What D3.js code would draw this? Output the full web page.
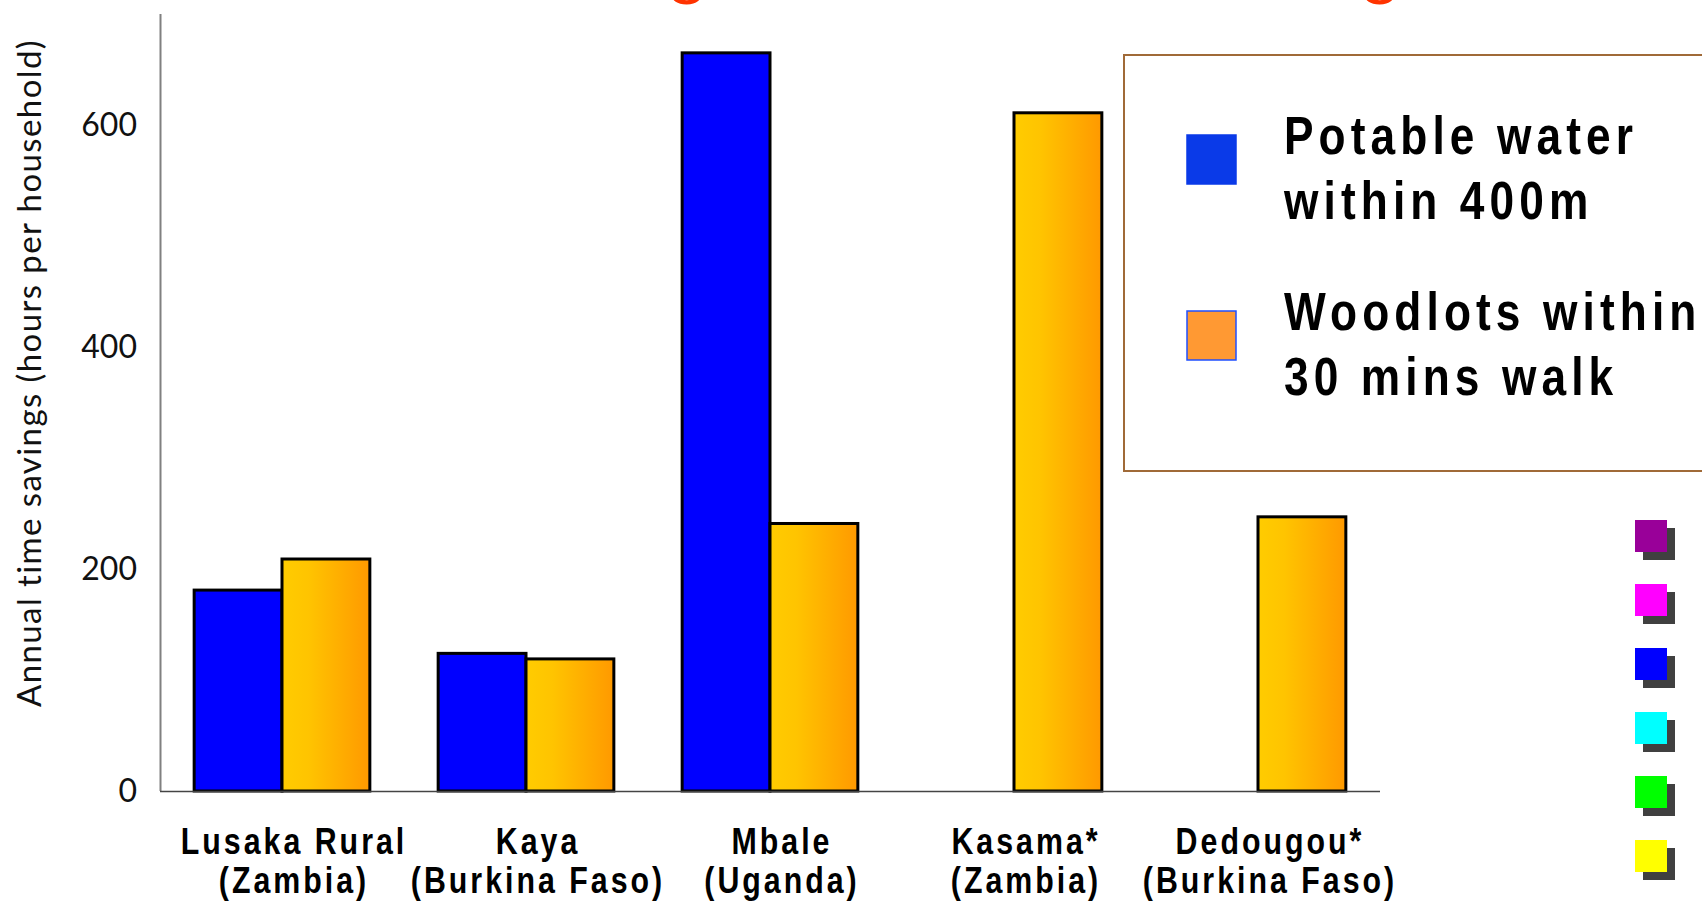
<!DOCTYPE html>
<html>
<head>
<meta charset="utf-8">
<script src="https://cdn.jsdelivr.net/npm/d3@7"></script>
<style>
  html, body { margin: 0; padding: 0; background: #ffffff; overflow: hidden; }
  svg { display: block; }
</style>
</head>
<body>
<svg id="chart" width="1702" height="902"></svg>
<script>
// ---- data ----
const categoriesLine1 = ["Lusaka Rural", "Kaya", "Mbale", "Kasama*", "Dedougou*"];
const categoriesLine2 = ["(Zambia)", "(Burkina Faso)", "(Uganda)", "(Zambia)", "(Burkina Faso)"];
const waterValues = [181, 124, 665, null, null];
const woodlotValues = [209, 119, 241, 611, 247];
const seriesNames = ["Potable water\nwithin 400m", "Woodlots within\n30 mins walk"];
const yTicks = [0, 200, 400, 600];
const yLabel = "Annual time savings (hours per household)";
const titleText = "Time Savings from Better Siting";
const decoColors = ["#990099", "#ff00ff", "#0000ff", "#00ffff", "#00ff00", "#ffff00"];

// ---- layout ----
const svg = d3.select("#chart");
const mLeft = 160, mRight = 1380, mTop = 14, mBottom = 791;
const condense = 0.82;
const boldFont = "'Liberation Sans', Arial, sans-serif";

const x0 = d3.scaleBand().domain(categoriesLine1).range([mLeft, mRight])
  .paddingInner(0.28).paddingOuter(0.14);
const x1 = d3.scaleBand().domain(["water", "wood"]).range([0, x0.bandwidth()]).padding(0);
const y = d3.scaleLinear().domain([0, 700]).range([mBottom, mTop]);

const defs = svg.append("defs");
const grad = defs.append("linearGradient").attr("id", "orangeGrad")
  .attr("x1", "0%").attr("x2", "100%").attr("y1", "0%").attr("y2", "0%");
grad.append("stop").attr("offset", "0%").attr("stop-color", "#ffcc00");
grad.append("stop").attr("offset", "30%").attr("stop-color", "#ffc400");
grad.append("stop").attr("offset", "100%").attr("stop-color", "#ff9900");

// ---- title (mostly above the visible area) ----
const title = svg.append("text")
  .attr("x", 340).attr("y", -7)
  .attr("font-family", "Lato, 'Open Sans', sans-serif")
  .attr("font-size", 66)
  .attr("fill", "#ff3300")
  .text(titleText);
{
  const node = title.node();
  const i1 = titleText.indexOf("g");
  const i2 = titleText.lastIndexOf("g");
  const d = node.getStartPositionOfChar(i2).x - node.getStartPositionOfChar(i1).x;
  const ls = (692 - d) / (i2 - i1);
  title.attr("letter-spacing", ls);
  const p1 = node.getStartPositionOfChar(i1).x;
  title.attr("x", 340 + (670 - p1));
}

// ---- y axis ----
svg.append("line")
  .attr("x1", mLeft + 0.5).attr("x2", mLeft + 0.5)
  .attr("y1", y(700)).attr("y2", y(0))
  .attr("stroke", "#808080").attr("stroke-width", 2);

const yAxis = d3.axisLeft(y).tickValues(yTicks).tickSize(0).tickPadding(0);
const yg = svg.append("g").attr("transform", `translate(${mLeft - 23},0)`).call(yAxis);
yg.select(".domain").remove();
yg.selectAll("text")
  .attr("font-family", "Lato, 'Open Sans', sans-serif")
  .attr("font-size", 32)
  .attr("fill", "#111");

svg.append("text")
  .attr("transform", `translate(41,373) rotate(-90)`)
  .attr("text-anchor", "middle")
  .attr("font-family", "Lato, 'Open Sans', sans-serif")
  .attr("font-size", 33)
  .attr("letter-spacing", 1.4)
  .attr("fill", "#111")
  .text(yLabel);

// ---- bars ----
const groups = svg.append("g").selectAll("g")
  .data(categoriesLine1.map((c, i) => ({ c, i })))
  .join("g")
  .attr("transform", d => `translate(${x0(d.c)},0)`);

groups.filter(d => waterValues[d.i] != null).append("rect")
  .attr("x", x1("water"))
  .attr("width", x1.bandwidth())
  .attr("y", d => y(waterValues[d.i]))
  .attr("height", d => y(0) - y(waterValues[d.i]))
  .attr("fill", "#0000ff")
  .attr("stroke", "#000").attr("stroke-width", 3);

groups.filter(d => woodlotValues[d.i] != null).append("rect")
  .attr("x", x1("wood"))
  .attr("width", x1.bandwidth())
  .attr("y", d => y(woodlotValues[d.i]))
  .attr("height", d => y(0) - y(woodlotValues[d.i]))
  .attr("fill", "url(#orangeGrad)")
  .attr("stroke", "#000").attr("stroke-width", 3);

// baseline
svg.append("line")
  .attr("x1", mLeft).attr("x2", mRight)
  .attr("y1", y(0) + 0.5).attr("y2", y(0) + 0.5)
  .attr("stroke", "#444").attr("stroke-width", 1.5);

// ---- condensed text helper ----
function condensedText(parent, x, yb, str, size, spacing, anchor) {
  const g = parent.append("g").attr("transform", `translate(${x},${yb}) scale(${condense},1)`);
  g.append("text")
    .attr("x", 0).attr("y", 0)
    .attr("text-anchor", anchor)
    .attr("font-family", boldFont)
    .attr("font-weight", "bold")
    .attr("font-size", size)
    .attr("letter-spacing", spacing / condense)
    .attr("fill", "#000")
    .text(str);
}

// ---- category labels ----
const labelG = svg.append("g");
categoriesLine1.forEach((c, i) => {
  const cx = x0(c) + x0.bandwidth() / 2 + 12;
  condensedText(labelG, cx, 854, categoriesLine1[i], 37, 3, "middle");
  condensedText(labelG, cx, 893, categoriesLine2[i], 37, 3, "middle");
});

// ---- legend ----
const lg = svg.append("g");
lg.append("rect")
  .attr("x", 1124).attr("y", 55).attr("width", 700).attr("height", 416)
  .attr("fill", "#fff").attr("stroke", "#a06a38").attr("stroke-width", 2);

const legendItems = [
  { name: seriesNames[0], fill: "#0a3ae8", stroke: "#0a3ae8", y0: 135 },
  { name: seriesNames[1], fill: "#ff9933", stroke: "#1f4fff", y0: 311 }
];
legendItems.forEach(it => {
  lg.append("rect")
    .attr("x", 1187).attr("y", it.y0).attr("width", 49).attr("height", 49)
    .attr("fill", it.fill).attr("stroke", it.stroke).attr("stroke-width", 1.5);
  it.name.split("\n").forEach((line, k) => {
    condensedText(lg, 1284, it.y0 + 19 + k * 65, line, 54, 5.1, "start");
  });
});

// ---- decorative squares ----
const deco = svg.append("g");
decoColors.forEach((c, i) => {
  deco.append("rect").attr("x", 1643).attr("y", 528 + i * 64).attr("width", 32).attr("height", 32).attr("fill", "#404040");
  deco.append("rect").attr("x", 1635).attr("y", 520 + i * 64).attr("width", 32).attr("height", 32).attr("fill", c);
});
</script>
</body>
</html>
